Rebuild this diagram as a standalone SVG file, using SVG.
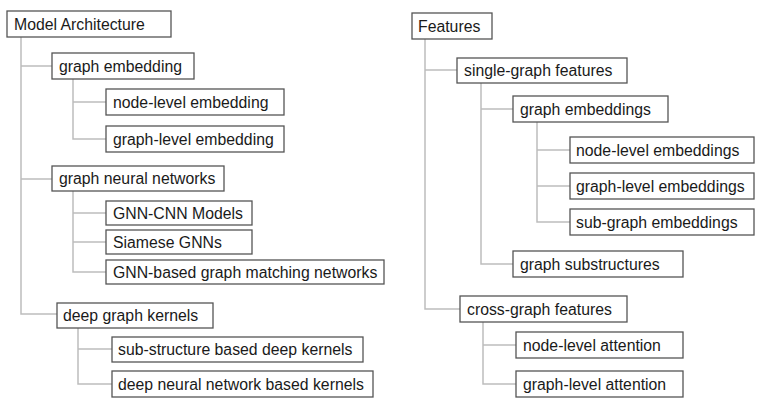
<svg xmlns="http://www.w3.org/2000/svg" width="762" height="403" viewBox="0 0 762 403">
<style>
.n rect{fill:#fff;stroke:#555;stroke-width:1.3}
.n text{font-family:"Liberation Sans",Arial,sans-serif;font-size:15.8px;fill:#1a1a1a}
.c path{fill:none;stroke:#bdbdbd;stroke-width:1.5}
</style>
<rect width="762" height="403" fill="#fff"/>
<g class="c" id="connectors">
<path d="M21 37V314H57M21 66H52M21 179H52"/>
<path d="M73 79V139H106M73 102H106"/>
<path d="M73 191V272H106M73 213H106M73 242H106"/>
<path d="M78 328V384H112M78 349H112"/>
<path d="M425 39V309H460M425 70H457"/>
<path d="M481 83V264H513M481 109H513"/>
<path d="M537 122V222H570M537 150H570M537 186H570"/>
<path d="M483 322V384H516M483 345H516"/>
</g>
<g class="n" id="model-architecture"><rect x="7" y="11" width="164" height="26"/><text x="14" y="29.5">Model Architecture</text></g>
<g class="n" id="graph-embedding"><rect x="52" y="53" width="142" height="26"/><text x="59" y="71.5">graph embedding</text></g>
<g class="n" id="node-level-embedding"><rect x="106" y="89" width="178" height="26"/><text x="113" y="107.5">node-level embedding</text></g>
<g class="n" id="graph-level-embedding"><rect x="106" y="126" width="178" height="26"/><text x="113" y="144.5">graph-level embedding</text></g>
<g class="n" id="graph-neural-networks"><rect x="52" y="166" width="172" height="25"/><text x="59" y="184">graph neural networks</text></g>
<g class="n" id="gnn-cnn"><rect x="106" y="201" width="146" height="24"/><text x="113" y="218.5">GNN-CNN Models</text></g>
<g class="n" id="siamese"><rect x="106" y="230" width="146" height="24"/><text x="113" y="247.5">Siamese GNNs</text></g>
<g class="n" id="gnn-matching"><rect x="106" y="260" width="278" height="24"/><text x="113" y="277.5">GNN-based graph matching networks</text></g>
<g class="n" id="deep-graph-kernels"><rect x="57" y="303" width="156" height="25"/><text x="63" y="321">deep graph kernels</text></g>
<g class="n" id="sub-structure"><rect x="112" y="337" width="251" height="25"/><text x="118" y="355">sub-structure based deep kernels</text></g>
<g class="n" id="dnn-kernels"><rect x="112" y="371" width="261" height="26"/><text x="118" y="389.5">deep neural network based kernels</text></g>
<g class="n" id="features"><rect x="412" y="13" width="80" height="26"/><text x="418" y="31.5">Features</text></g>
<g class="n" id="single-graph"><rect x="457" y="58" width="170" height="25"/><text x="464" y="76">single-graph features</text></g>
<g class="n" id="graph-embeddings"><rect x="513" y="96" width="155" height="26"/><text x="520" y="114.5">graph embeddings</text></g>
<g class="n" id="node-level-embeddings"><rect x="570" y="137" width="184" height="26"/><text x="576" y="155.5">node-level embeddings</text></g>
<g class="n" id="graph-level-embeddings"><rect x="570" y="173" width="184" height="26"/><text x="576" y="191.5">graph-level embeddings</text></g>
<g class="n" id="sub-graph-embeddings"><rect x="570" y="209" width="184" height="26"/><text x="576" y="227.5">sub-graph embeddings</text></g>
<g class="n" id="graph-substructures"><rect x="513" y="251" width="170" height="26"/><text x="520" y="269.5">graph substructures</text></g>
<g class="n" id="cross-graph"><rect x="460" y="296" width="167" height="26"/><text x="467" y="314.5">cross-graph features</text></g>
<g class="n" id="node-level-attention"><rect x="516" y="332" width="167" height="26"/><text x="523" y="350.5">node-level attention</text></g>
<g class="n" id="graph-level-attention"><rect x="516" y="371" width="167" height="26"/><text x="523" y="389.5">graph-level attention</text></g>
</svg>
